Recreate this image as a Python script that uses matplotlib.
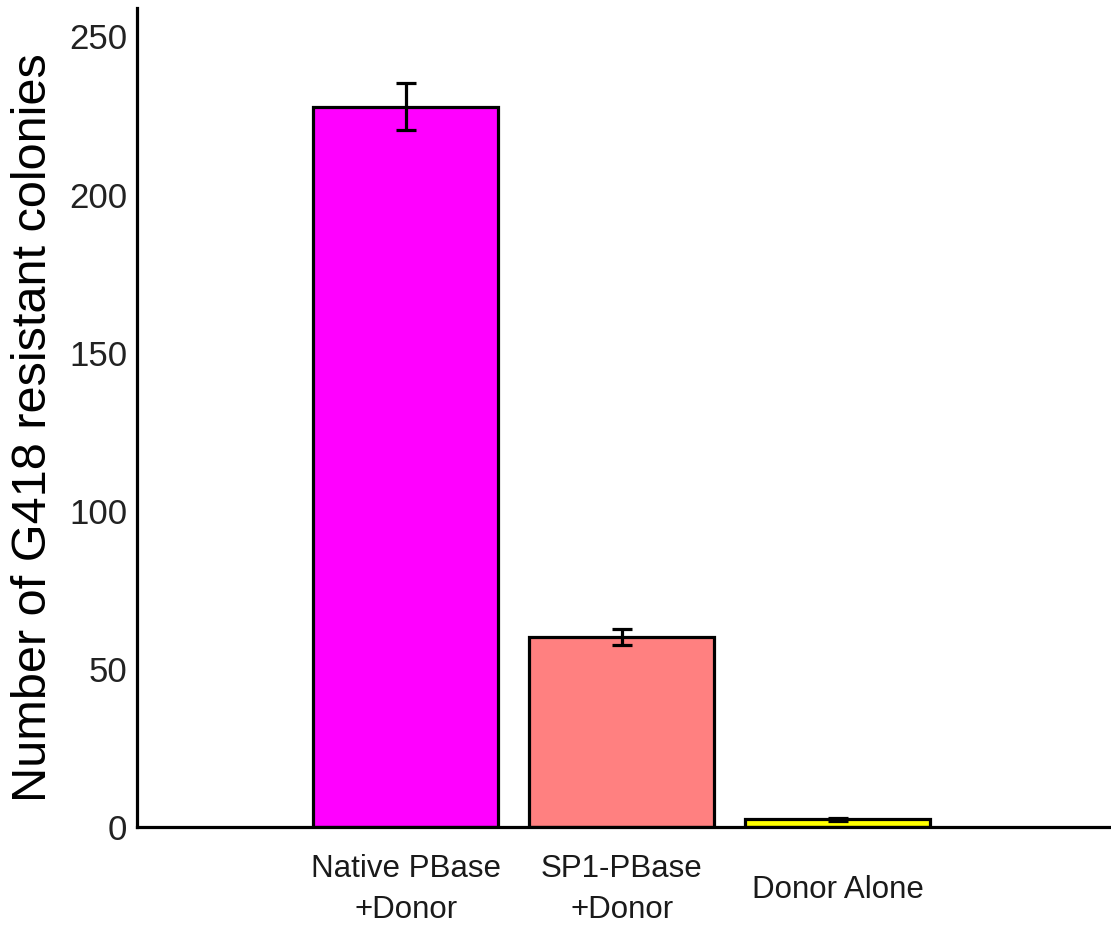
import matplotlib
matplotlib.use("Agg")
import matplotlib.pyplot as plt
from matplotlib import font_manager

categories = ["Native PBase\n+Donor", "SP1-PBase\n+Donor", "Donor Alone"]
values = [227.8, 60.0, 2.5]
errors = [7.4, 2.5, 0.5]
colors = ["#FF00FF", "#FF8080", "#FFFF00"]
yticks = [0, 50, 100, 150, 200, 250]

names = {f.name for f in font_manager.fontManager.ttflist}
narrow = "Liberation Sans Narrow" if "Liberation Sans Narrow" in names else "Liberation Sans"

plt.rcParams['font.family'] = ['Liberation Sans', 'DejaVu Sans']

fig = plt.figure(figsize=(11.11, 9.3), dpi=100)
ax = fig.add_axes([137/1111, 103/930, (1110-137)/1111, (827-8)/930])

x = list(range(len(categories)))
ax.bar(x, values, width=0.856, color=colors, edgecolor="black", linewidth=2.3, zorder=2)
ax.errorbar(x, values, yerr=errors, fmt="none", ecolor="black", elinewidth=2.3,
            capsize=7.2, capthick=2.3, zorder=3)

ax.set_xlim(-1.243, 3.26)
ax.set_ylim(0, 259)
ax.set_yticks(yticks)
ax.set_yticklabels([str(t) for t in yticks], fontsize=25, color="#222222")
ax.tick_params(axis="y", length=0, pad=7)
ax.set_xticks([])
for s in ["top", "right"]:
    ax.spines[s].set_visible(False)
for s in ["left", "bottom"]:
    ax.spines[s].set_linewidth(2.3)
    ax.spines[s].set_color("black")

for xi, lab in zip(x, categories):
    ax.annotate(lab, xy=(xi, 0), xycoords=("data", "axes fraction"),
                xytext=(0, -45), textcoords="offset points",
                ha="center", va="center", fontsize=22.5, family=narrow,
                color="#1a1a1a", linespacing=1.45)

fig.text(34/1111, 1 - 428/930, "Number of G418 resistant colonies", rotation=90,
         ha="center", va="center", fontsize=35, color="black")

fig.savefig("out.png", dpi=100, facecolor="white")
